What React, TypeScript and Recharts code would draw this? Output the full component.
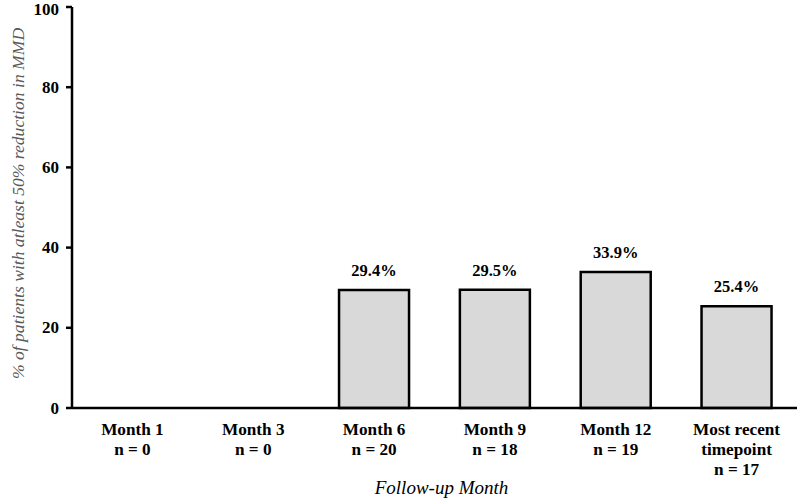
import React from 'react';
import { BarChart, Bar, XAxis, YAxis, LabelList } from 'recharts';

const months = ['Month 1', 'Month 3', 'Month 6', 'Month 9', 'Month 12', 'Most recent\ntimepoint'];
const sampleSizes = [0, 0, 20, 18, 19, 17];
const responderPct: (number | null)[] = [null, null, 29.4, 29.5, 33.9, 25.4];
const yTicks = [0, 20, 40, 60, 80, 100];

const data = months.map((m, i) => ({
  label: `${m}\nn = ${sampleSizes[i]}`,
  pct: responderPct[i],
}));

const FONT = 'Liberation Serif';

const XTick = (props: any) => {
  const { x, y, payload } = props;
  const lines = String(payload.value).split('\n');
  return (
    <g transform={`translate(${x},${y})`}>
      {lines.map((line, i) => (
        <text
          key={i}
          x={0}
          y={19 + i * 20}
          textAnchor="middle"
          fontFamily={FONT}
          fontWeight="bold"
          fontSize={17.2}
          fill="#000"
        >
          {line}
        </text>
      ))}
    </g>
  );
};

const YTick = (props: any) => {
  const { x, y, payload } = props;
  return (
    <text
      x={x - 5}
      y={y}
      textAnchor="end"
      dominantBaseline="central"
      fontFamily={FONT}
      fontWeight="bold"
      fontSize={17}
      fill="#000"
    >
      {payload.value}
    </text>
  );
};

const YLabel = (props: any) => {
  const { viewBox } = props;
  const cy = viewBox.y + viewBox.height / 2 - 4;
  return (
    <text
      x={18}
      y={cy}
      transform={`rotate(-90, 18, ${cy})`}
      textAnchor="middle"
      dominantBaseline="central"
      fontFamily={FONT}
      fontStyle="italic"
      fontSize={17.6}
      fill="#595959"
    >
      % of patients with atleast 50% reduction in MMD
    </text>
  );
};

const XLabel = (props: any) => {
  const { viewBox } = props;
  const cx = viewBox.x + viewBox.width / 2 + 7;
  return (
    <text
      x={cx}
      y={494}
      textAnchor="middle"
      fontFamily={FONT}
      fontStyle="italic"
      fontSize={19}
      fill="#000"
    >
      Follow-up Month
    </text>
  );
};

const BarValue = (props: any) => {
  const { x, y, width, value } = props;
  if (value == null) return null;
  return (
    <text
      x={x + width / 2}
      y={y - 14}
      textAnchor="middle"
      fontFamily={FONT}
      fontWeight="bold"
      fontSize={16.5}
      fill="#000"
    >
      {`${Number(value).toFixed(1)}%`}
    </text>
  );
};

export default function App() {
  return (
    <div style={{ position: 'absolute', left: 0, top: 0, background: '#fff' }}>
      <BarChart
        width={797}
        height={500}
        data={data}
        margin={{ top: 7, right: 0, left: 0, bottom: 0 }}
        barCategoryGap="21%"
      >
        <XAxis
          dataKey="label"
          axisLine={{ stroke: '#000', strokeWidth: 2.5 }}
          tickLine={false}
          tick={<XTick />}
          height={92}
          interval={0}
          label={<XLabel />}
        />
        <YAxis
          domain={[0, 100]}
          ticks={yTicks}
          width={72}
          axisLine={{ stroke: '#000', strokeWidth: 2.5 }}
          tickLine={{ stroke: '#000', strokeWidth: 2.5 }}
          tickSize={6}
          tick={<YTick />}
          label={<YLabel />}
        />
        <Bar
          dataKey="pct"
          fill="#d9d9d9"
          stroke="#000"
          strokeWidth={2.5}
          isAnimationActive={false}
        >
          <LabelList dataKey="pct" content={<BarValue />} />
        </Bar>
      </BarChart>
    </div>
  );
}
